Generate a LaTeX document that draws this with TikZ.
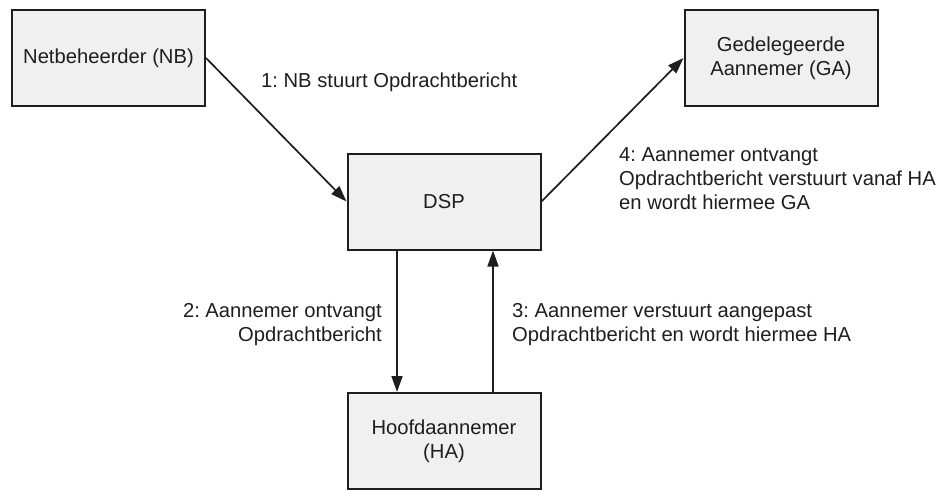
\documentclass[tikz,border=0pt]{standalone}
\usepackage{fontspec}
\setmainfont{Liberation Sans}
\usetikzlibrary{arrows.meta}
\frenchspacing
\definecolor{boxfill}{HTML}{F0F0F0}
\definecolor{ink}{HTML}{1E1E1E}
\tikzset{
  blk/.style={draw=ink, line width=2pt, fill=boxfill, text=ink, align=center,
    minimum width=193pt, minimum height=96pt, inner sep=0pt,
    font=\fontsize{20.2}{24.4}\selectfont},
  lbl/.style={text=ink, inner sep=0pt, font=\fontsize{20.2}{24.4}\selectfont},
  flow/.style={draw=ink, line width=1.7pt, -{Triangle[length=16pt,width=11pt]}}
}
\begin{document}
\begin{tikzpicture}[x=1pt,y=-1pt]
\useasboundingbox (0,0) rectangle (942,490);
\node[blk] (nb)  at (108.5,58) {Netbeheerder (NB)};
\node[blk] (ga)  at (781,58) {Gedelegeerde\\Aannemer (GA)};
\node[blk] (dsp) at (444,201.5) {DSP};
\node[blk] (ha)  at (444,441) {Hoofdaannemer\\(HA)};
\draw[flow] (nb.east) -- (dsp.west);
\draw[flow] (dsp.east) -- (ga.west);
\draw[flow] ([xshift=-47pt]dsp.south) -- ([xshift=-47pt]ha.north);
\draw[flow] ([xshift=49pt]ha.north) -- ([xshift=49pt]dsp.south);
\node[lbl, anchor=north west, align=left] (l1) at (261,73) {1: NB stuurt Opdrachtbericht};
\node[lbl, anchor=north east, align=right] (l2) at (382,303) {2: Aannemer ontvangt\\Opdrachtbericht};
\node[lbl, anchor=north west, align=left] (l3) at (512,303) {3: Aannemer verstuurt aangepast\\Opdrachtbericht en wordt hiermee HA};
\node[lbl, anchor=north west, align=left] (l4) at (619,147) {4: Aannemer ontvangt\\Opdrachtbericht verstuurt vanaf HA\\en wordt hiermee GA};
\end{tikzpicture}
\end{document}
